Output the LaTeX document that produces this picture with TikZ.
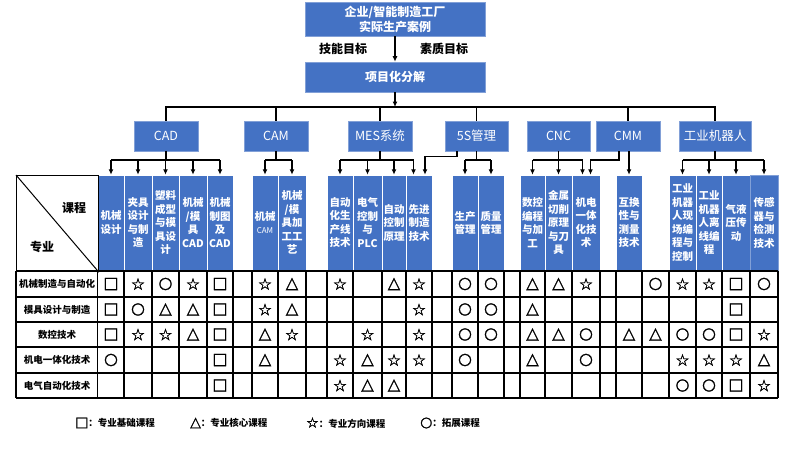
\documentclass[tikz,border=0pt]{standalone}
\usepackage{fontspec}
\setmainfont{Noto Sans CJK SC}
\newfontfamily\symfont{DejaVu Sans}[FakeBold=1.5]
\usetikzlibrary{arrows.meta}
\definecolor{boxblue}{RGB}{68,114,196}
\definecolor{boxedge}{RGB}{130,160,215}
\newcommand{\symq}{□}
\newcommand{\symt}{△}
\newcommand{\syms}{☆}
\newcommand{\symo}{○}
\begin{document}
\begin{tikzpicture}[x=1pt,y=-1pt,
  bluebox/.style={fill=boxblue,draw=boxedge,line width=0.6pt,text=white,inner sep=0pt,align=center},
  topbox/.style={bluebox,minimum width=180pt,font=\fontsize{12}{15}\selectfont\bfseries},
  catbox/.style={bluebox,minimum height=30pt,font=\fontsize{12.5}{15}\selectfont},
  hcol/.style={fill=boxblue,draw=white,line width=0.5pt,text=white,inner sep=0pt,align=center,
    minimum height=95.5pt,font=\fontsize{10.5}{13.5}\selectfont\bfseries},
  lbl/.style={font=\fontsize{12}{14}\selectfont\bfseries,inner sep=0pt},
  rowlbl/.style={font=\fontsize{9.5}{11}\selectfont\bfseries,inner sep=0pt},
  conn/.style={line width=1.1pt,black},
  arr/.style={conn,-{Latex[length=5.5pt,width=5pt]}},
  grid/.style={line width=1.2pt,black},
  symb/.style={font=\fontsize{16}{16}\selectfont\symfont,inner sep=0pt},
  leg/.style={font=\fontsize{9.5}{12}\selectfont\bfseries,inner sep=0pt,anchor=west}]
\useasboundingbox[fill=white] (0,0) rectangle (800,475);

% top part
\node[topbox,minimum height=34pt] (src) at (395,19) {企业/智能制造工厂\\实际生产案例};
\node[topbox,minimum height=30pt] (proj) at (395,77) {项目化分解};
\node[lbl] (skill) at (343,49) {技能目标};
\node[lbl] (qual) at (444,49) {素质目标};
\draw[arr] (src) -- (proj);
\coordinate (busc) at (395,107);
\draw[arr] (proj) -- (busc);

% categories
\node[catbox,minimum width=64pt] (cad) at (166,136) {CAD};
\node[catbox,minimum width=64pt] (cam) at (276,136) {CAM};
\node[catbox,minimum width=64pt] (mes) at (380,136) {MES系统};
\node[catbox,minimum width=63pt] (fives) at (476.5,136) {5S管理};
\node[catbox,minimum width=63pt] (cnc) at (558.5,136) {CNC};
\node[catbox,minimum width=64pt] (cmm) at (628,136) {CMM};
\node[catbox,minimum width=72pt] (robot) at (715,136) {工业机器人};

\coordinate (busL) at (166,107);
\coordinate (busR) at (715,107);
\draw[conn] (cad.north) -- (busL) -- (busR) -- (robot.north);
\foreach \n in {cam,mes,fives,cmm} \draw[conn] (\n.north) -- (\n.north |- busL);

% header columns
\def\hy{222.75}
\node[hcol,minimum width=26.3pt] (h1) at (111,\hy) {机械\\设计};
\node[hcol,minimum width=28pt] (h2) at (138,\hy) {夹具\\设计\\与制\\造};
\node[hcol,minimum width=27pt] (h3) at (165.5,\hy) {塑料\\成型\\与模\\具设\\计};
\node[hcol,minimum width=28pt] (h4) at (193,\hy) {机械\\/模\\具\\CAD};
\node[hcol,minimum width=26pt] (h5) at (220,\hy) {机械\\制图\\及\\CAD};
\node[hcol,minimum width=26pt] (h7) at (265,\hy) {机械\\{\fontsize{8}{10}\selectfont\mdseries CAM}};
\node[hcol,minimum width=28pt] (h8) at (292,\hy) {机械\\/模\\具加\\工工\\艺};
\node[hcol,minimum width=26pt] (h10) at (340,\hy) {自动\\化生\\产线\\技术};
\node[hcol,minimum width=29pt] (h11) at (367.5,\hy) {电气\\控制\\与\\PLC};
\node[hcol,minimum width=24pt] (h12) at (394,\hy) {自动\\控制\\原理};
\node[hcol,minimum width=26pt] (h13) at (419,\hy) {先进\\制造\\技术};
\node[hcol,minimum width=26pt] (h15) at (465,\hy) {生产\\管理};
\node[hcol,minimum width=26pt] (h16) at (491,\hy) {质量\\管理};
\node[hcol,minimum width=25pt] (h18) at (532.5,\hy) {数控\\编程\\与加\\工};
\node[hcol,minimum width=27pt] (h19) at (558.5,\hy) {金属\\切削\\原理\\与刀\\具};
\node[hcol,minimum width=28pt] (h20) at (586,\hy) {机电\\一体\\化技\\术};
\node[hcol,minimum width=26pt] (h22) at (629,\hy) {互换\\性与\\测量\\技术};
\node[hcol,minimum width=27pt] (h24) at (682.5,\hy) {工业\\机器\\人现\\场编\\程与\\控制};
\node[hcol,minimum width=26pt] (h25) at (709,\hy) {工业\\机器\\人离\\线编\\程};
\node[hcol,minimum width=28pt] (h26) at (736,\hy) {气液\\压传\\动};
\node[hcol,minimum width=28pt,draw=boxedge] (h27) at (764,\hy) {传感\\器与\\检测\\技术};

% lower connectors
\coordinate (lv) at (0,160);
% CAD
\draw[conn] (cad.south) -- (cad.south |- lv);
\draw[conn] (h1.north |- lv) -- (h5.north |- lv);
\foreach \n in {h1,h2,h3,h4,h5} \draw[arr] (\n.north |- lv) -- (\n.north);
% CAM
\draw[conn] (cam.south) -- (cam.south |- lv);
\draw[conn] (h7.north |- lv) -- (h8.north |- lv);
\foreach \n in {h7,h8} \draw[arr] (\n.north |- lv) -- (\n.north);
% MES
\coordinate (a13m) at (413.5,160);
\draw[conn] (mes.south) -- (mes.south |- lv);
\draw[conn] (h10.north |- lv) -- (a13m);
\foreach \n in {h10,h11,h12} \draw[arr] (\n.north |- lv) -- (\n.north);
\draw[arr] (a13m) -- (a13m |- h13.north);
% 5S
\coordinate (a13f) at (425,156.5);
\draw[arr] ([xshift=-19.5pt]fives.south) |- (a13f) -- (a13f |- h13.north);
\draw[conn] (fives.south) -- (fives.south |- lv);
\draw[conn] (h15.north |- lv) -- (h16.north |- lv);
\foreach \n in {h15,h16} \draw[arr] (\n.north |- lv) -- (\n.north);
% CNC
\coordinate (a20c) at (582.5,160);
\draw[conn] (cnc.south) -- (cnc.south |- lv);
\draw[conn] (h18.north |- lv) -- (a20c);
\foreach \n in {h18,h19} \draw[arr] (\n.north |- lv) -- (\n.north);
\draw[arr] (a20c) -- (a20c |- h20.north);
% CMM
\coordinate (a20m) at (590.5,160);
\draw[arr] ([xshift=-9pt]cmm.south) |- (a20m) -- (a20m |- h20.north);
\draw[arr] (h22.north |- cmm.south) -- (h22.north);
% robot
\draw[conn] (robot.south) -- (robot.south |- lv);
\draw[conn] (h24.north |- lv) -- (h27.north |- lv);
\foreach \n in {h24,h25,h26,h27} \draw[arr] (\n.north |- lv) -- (\n.north);

% corner cell
\node[draw,grid,minimum width=81.7pt,minimum height=96pt,inner sep=0pt,anchor=north west] (corner) at (16,175) {};
\draw[line width=1pt] (corner.north west) -- (corner.south east);
\node[lbl] (kc) at (74,208) {课程};
\node[lbl] (zy) at (42,247) {专业};

% grid
\foreach \x in {16,97.7,124,152,179,207,233,252,278,306,327,353,382,406,432,452,478,504,520,545,572,600,616,642,669,696,722,750,778}
  \draw[grid] (\x,271) -- (\x,398);
\foreach \y in {271,297,322,347,373,398}
  \draw[grid] (16,\y) -- (778,\y);

% row labels
\node[rowlbl] (r1) at (57,284) {机械制造与自动化};
\node[rowlbl] (r2) at (57,309.5) {模具设计与制造};
\node[rowlbl] (r3) at (57,334.5) {数控技术};
\node[rowlbl] (r4) at (57,360) {机电一体化技术};
\node[rowlbl] (r5) at (57,385.5) {电气自动化技术};

% symbols
\def\colx{{111,138,165.5,193,220,242.5,265,292,316.5,340,367.5,394,419,442,465,491,512,532.5,558.5,586,608,629,655.5,682.5,709,736,764}}
\def\rowy{{284,309.5,334.5,360,385.5}}
\foreach \r/\c/\s in {
 1/1/q,1/2/s,1/3/o,1/4/s,1/5/q,1/7/s,1/8/t,1/10/s,1/12/t,1/13/s,1/15/o,1/16/o,1/18/t,1/19/t,1/20/s,1/23/o,1/24/s,1/25/s,1/26/q,1/27/o,
 2/1/q,2/2/o,2/3/t,2/4/t,2/5/q,2/7/s,2/8/t,2/13/s,2/15/o,2/16/o,2/18/t,2/26/q,
 3/1/q,3/2/s,3/3/s,3/4/t,3/5/q,3/7/t,3/8/s,3/11/s,3/13/s,3/15/o,3/16/o,3/18/t,3/19/t,3/20/o,3/22/t,3/23/t,3/24/o,3/25/o,3/26/q,3/27/s,
 4/1/o,4/5/q,4/7/t,4/10/s,4/11/t,4/12/s,4/13/s,4/15/o,4/18/t,4/20/o,4/24/s,4/25/s,4/26/s,4/27/t,
 5/5/q,5/10/s,5/11/t,5/12/t,5/24/o,5/25/o,5/26/q,5/27/s}
{
  \pgfmathsetmacro\xx{\colx[\c-1]}
  \pgfmathsetmacro\yy{\rowy[\r-1]}
  \node[symb] (s\r-\c) at (\xx,\yy) {\csname sym\s\endcsname};
}

% legend
\node[leg] (l1) at (75,423) {{\fontsize{14}{14}\selectfont\symfont □}：专业基础课程};
\node[leg] (l2) at (190,423) {{\fontsize{14}{14}\selectfont\symfont △}：专业核心课程};
\node[leg] (l3) at (306,423) {{\fontsize{14}{14}\selectfont\symfont ☆}：专业方向课程};
\node[leg] (l4) at (420,423) {{\fontsize{14}{14}\selectfont\symfont ○}：拓展课程};
\end{tikzpicture}
\end{document}
